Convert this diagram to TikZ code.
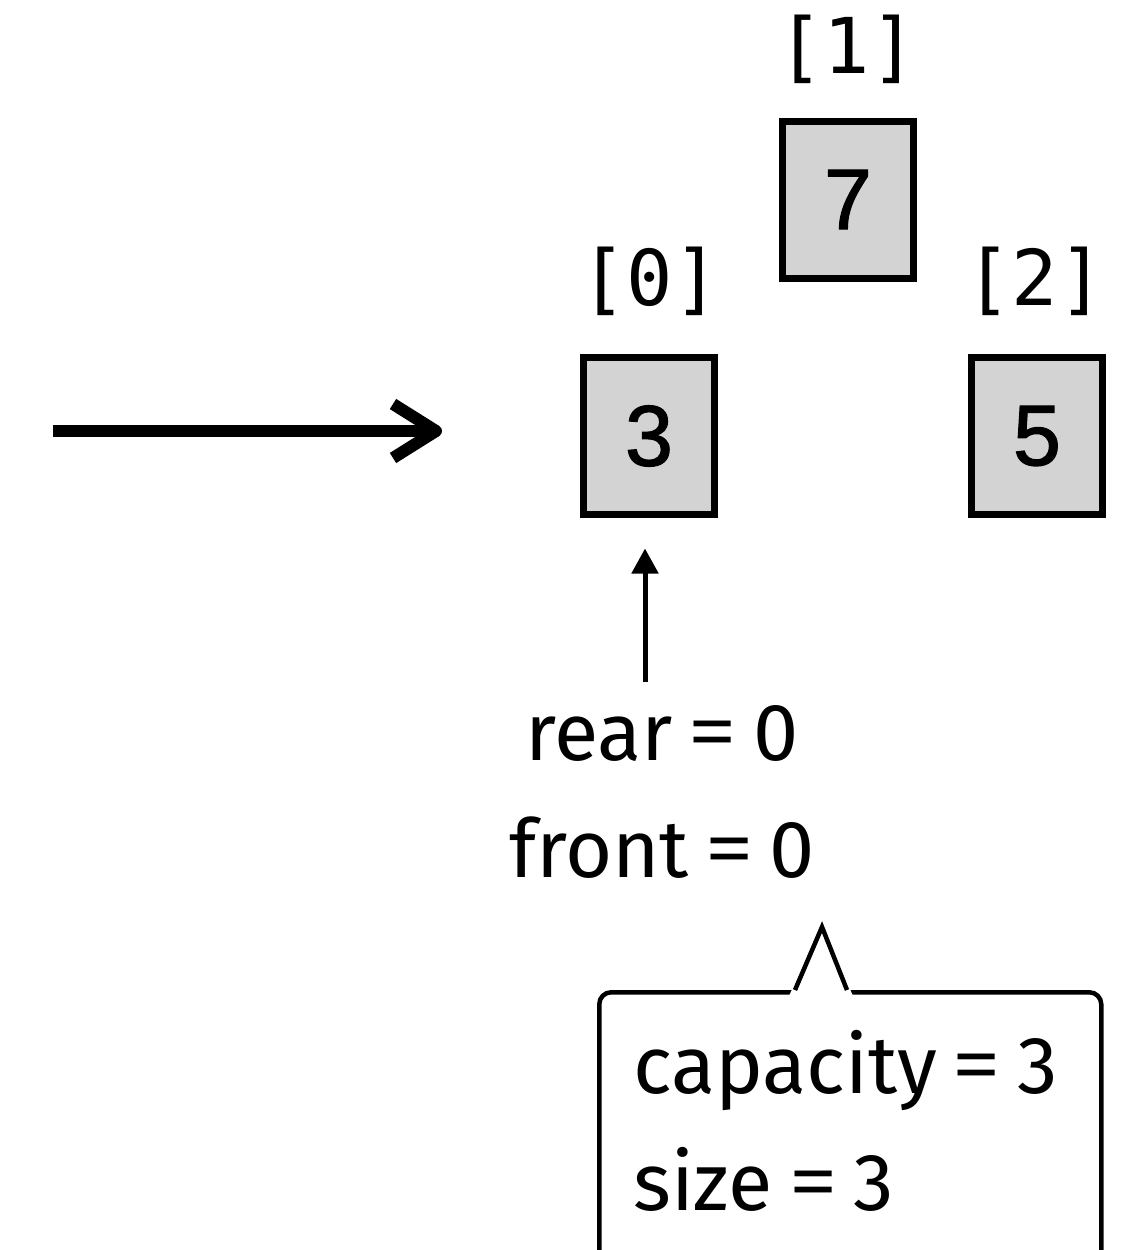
\documentclass[tikz,border=0pt]{standalone}
\usepackage{fontspec}
\setmainfont{Fira Sans}[WordSpace=0.8]
\newfontfamily\boxfont{Liberation Sans}[FakeBold=1.5]
\newfontfamily\idxfont{DejaVu Sans Mono}
\newfontfamily\eqfont{Noto Sans}
\newcommand{\myeq}{{\eqfont =}}
\usetikzlibrary{arrows.meta}
\definecolor{cellgray}{RGB}{211,211,211}
\begin{document}
\begin{tikzpicture}[x=1pt,y=-1pt,
  cell/.style={draw, line width=7pt, fill=cellgray, minimum width=131pt, minimum height=157pt, inner sep=0pt, font=\boxfont\fontsize{86}{86}\selectfont},
  idx/.style={font=\idxfont\fontsize{77}{77}\selectfont, anchor=base, inner sep=0pt},
  lbl/.style={font=\fontsize{81}{81}\selectfont, inner sep=0pt},
  bigarrow/.style={line width=12pt},
  ptr/.style={line width=5pt, -{Triangle[length=25pt,width=26pt]}},
  callout/.style={draw, line width=4.5pt, rounded corners=12pt, minimum width=502pt, minimum height=300pt, inner sep=0pt}]
\useasboundingbox (0,0) rectangle (1132,1250);
% cells
\node[cell] (c0) at (649,436) {3};
\node[cell] (c1) at (848,199.5) {7};
\node[cell] (c2) at (1037,436) {5};
% indices
\node[idx] (i0) at (650,305) {[0]};
\node[idx] (i1) at (847,73) {[1]};
\node[idx] (i2) at (1035,305) {[2]};
% big arrow
\coordinate (bs) at (53,431);
\coordinate (bt) at (436,431);
\draw[bigarrow] (bs) -- (bt);
\draw[bigarrow, line join=round] ([shift={(-43,-27)}]bt) -- (bt) -- ([shift={(-43,27)}]bt);
% labels
\node[lbl, anchor=base] (rear) at (662,760) {rear \myeq{} 0};
\node[lbl, anchor=base] (front) at (662,877) {front \myeq{} 0};
\coordinate (ra) at (645,682);
\coordinate (rb) at ([yshift=-30.5pt]c0.south);
\draw[ptr] (ra) -- (ra |- rb);
% callout
\node[callout, anchor=north west] (cbox) at (597,990) {};
\fill[white] (789,996) -- (822,924) -- (853,996) -- cycle;
\draw[line width=4.5pt, line join=miter] (795,990) -- (822,927) -- (847,990);
\node[lbl, anchor=base west] (cap) at (633,1093) {capacity \myeq{} 3};
\node[lbl, anchor=base west] (sz) at (633,1210) {size \myeq{} 3};
\end{tikzpicture}
\end{document}
